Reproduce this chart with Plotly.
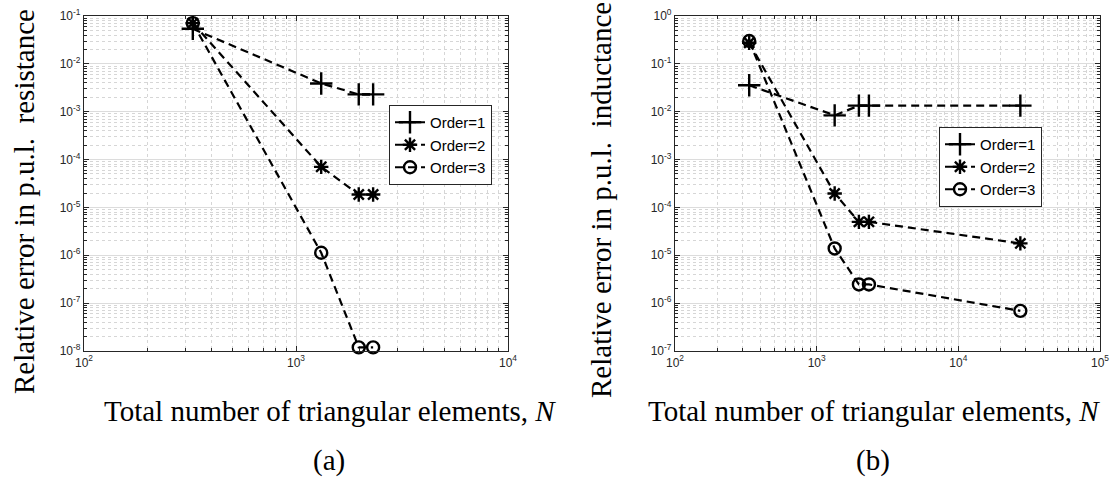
import plotly.graph_objects as go

# ---------------- data ----------------
N_a = [326, 1315, 1977, 2311]
res_order1 = [0.054, 0.0039, 0.0023, 0.0023]
res_order2 = [0.071, 7.05e-5, 1.86e-5, 1.86e-5]
res_order3 = [0.071, 1.13e-6, 1.19e-8, 1.19e-8]

N_b = [334, 1340, 1987, 2338, 27400]
ind_order1 = [0.0357, 0.0084, 0.0134, 0.0134, 0.0134]
ind_order2 = [0.277, 1.95e-4, 5.0e-5, 5.0e-5, 1.77e-5]
ind_order3 = [0.30, 1.39e-5, 2.46e-6, 2.46e-6, 6.9e-7]

series_names = ["Order=1", "Order=2", "Order=3"]
x_title = "Total number of triangular elements, <i>N</i>"
y_title_a = "Relative error in p.u.l.  resistance"
y_title_b = "Relative error in p.u.l.  inductance"
captions = ["(a)", "(b)"]

xdec_a = [2, 3, 4]
ydec_a = [-8, -7, -6, -5, -4, -3, -2, -1]
xdec_b = [2, 3, 4, 5]
ydec_b = [-7, -6, -5, -4, -3, -2, -1, 0]

# ---------------- styling ----------------
symbols = ["cross-thin-open", "asterisk-open", "circle-open"]
sizes = [16, 12, 12]
AX = "#262626"
TICKFONT = dict(family="Liberation Sans, Arial", size=12, color=AX)
SERIF = dict(family="Liberation Serif, Times New Roman, serif", size=29, color="black")


def tick_labels(decs):
    return [f"10<sup>{d}</sup>" for d in decs]


def minor_vals(decs):
    return [k * 10.0 ** d for d in decs[:-1] for k in range(2, 10)]


fig = go.Figure()

for ys, name, sym, sz in zip([res_order1, res_order2, res_order3], series_names, symbols, sizes):
    fig.add_trace(go.Scatter(
        x=N_a, y=ys, name=name, mode="lines+markers", cliponaxis=False,
        line=dict(color="black", width=2.2, dash="8px,5px"),
        marker=dict(symbol=sym, size=sz, color="black", line=dict(color="black", width=2.4)),
        xaxis="x", yaxis="y", legend="legend"))

for ys, name, sym, sz in zip([ind_order1, ind_order2, ind_order3], series_names, symbols, sizes):
    fig.add_trace(go.Scatter(
        x=N_b, y=ys, name=name, mode="lines+markers", cliponaxis=False,
        line=dict(color="black", width=2.2, dash="8px,5px"),
        marker=dict(symbol=sym, size=sz, color="black", line=dict(color="black", width=2.4)),
        xaxis="x2", yaxis="y2", legend="legend2"))


def axis(decs, domain, anchor):
    return dict(
        type="log", range=[decs[0], decs[-1]], domain=domain, anchor=anchor,
        automargin=False,
        tickvals=[10.0 ** d for d in decs], ticktext=tick_labels(decs),
        tickfont=TICKFONT, ticks="inside", ticklen=5, tickwidth=1, tickcolor=AX,
        showline=True, linecolor=AX, linewidth=1.2, mirror="ticks",
        showgrid=True, gridcolor="#dcdcdc", gridwidth=1,
        zeroline=False,
        minor=dict(tickvals=minor_vals(decs), ticks="inside", ticklen=3, tickcolor=AX,
                   showgrid=True, gridcolor="#d6d6d6", griddash="dot", gridwidth=1),
    )


yb0, yb1 = (477 - 351) / 477, (477 - 16) / 477
xa = [84 / 1116, 508 / 1116]
xb = [675 / 1116, 1100 / 1116]

legend_style = dict(
    bgcolor="white", bordercolor=AX, borderwidth=1,
    font=dict(family="Liberation Sans, Arial", size=15, color="black"),
    xanchor="left", yanchor="top", tracegroupgap=0, itemwidth=30,
)

fig.update_layout(
    width=1116, height=477,
    margin=dict(l=0, r=0, t=0, b=0, autoexpand=False),
    paper_bgcolor="white", plot_bgcolor="white",
    xaxis=axis(xdec_a, xa, "y"),
    yaxis=axis(ydec_a, [yb0, yb1], "x"),
    xaxis2=axis(xdec_b, xb, "y2"),
    yaxis2=axis(ydec_b, [yb0, yb1], "x2"),
    legend=dict(x=389 / 1116, y=(477 - 105) / 477, **legend_style),
    legend2=dict(x=939 / 1116, y=(477 - 127) / 477, **legend_style),
    showlegend=True,
)

ann = []
for cx, yt_x, yt_y, yt, cap in [(330, 24, 202, y_title_a, captions[0]),
                                (874, 601, 200, y_title_b, captions[1])]:
    ann.append(dict(text=x_title, xref="paper", yref="paper", x=cx / 1116, y=(477 - 411) / 477,
                    xanchor="center", yanchor="middle", showarrow=False, font=SERIF))
    ann.append(dict(text=yt, xref="paper", yref="paper", x=yt_x / 1116, y=(477 - yt_y) / 477,
                    xanchor="center", yanchor="middle", textangle=-90, showarrow=False, font=SERIF))
    ann.append(dict(text=cap, xref="paper", yref="paper", x=(cx - 1) / 1116, y=(477 - 460) / 477,
                    xanchor="center", yanchor="middle", showarrow=False, font=SERIF))
fig.update_layout(annotations=ann)

fig.write_html(
    "out.html",
    config={"displayModeBar": False},
    post_script="document.body.style.margin='0';document.body.style.overflow='hidden';",
)
